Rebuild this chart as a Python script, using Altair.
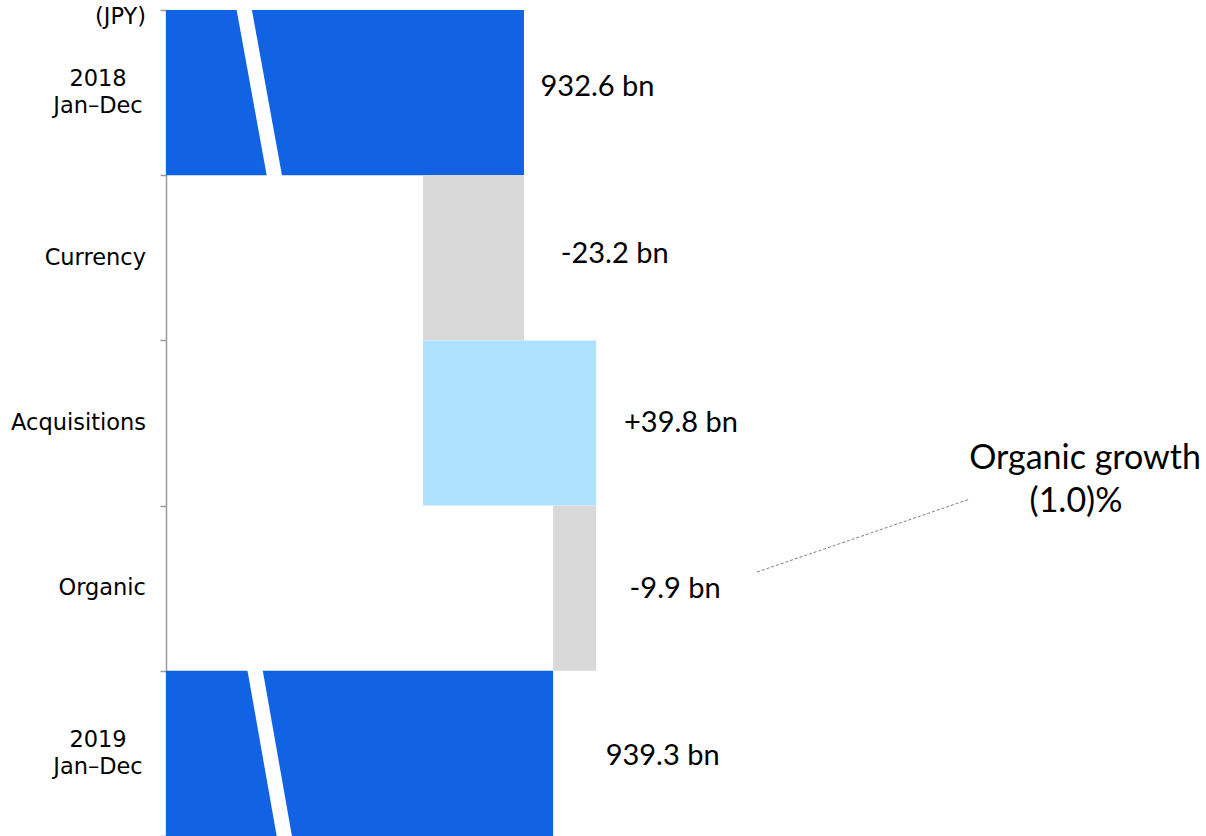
import altair as alt
import pandas as pd

# ---- data ----
categories = ["2018 Jan–Dec", "Currency", "Acquisitions", "Organic", "2019 Jan–Dec"]
values = [932.6, -23.2, 39.8, -9.9, 939.3]
kinds = ["total", "change", "change", "change", "total"]
value_labels = ["932.6 bn", "-23.2 bn", "+39.8 bn", "-9.9 bn", "939.3 bn"]

# broken-axis marks (white slashes) on the total bars
break_rows = [0, 4]
break_top = [868.3, 870.8]
break_bottom = [875.2, 877.5]

# ---- layout / style ----
x_domain = [850.3, 1089.4]
label_dx = [73.5, 90.7, 84.8, 78.9, 109.5]
label_dy = [-6, -4, 0, 1, 3]
DARK_BLUE = "#1263E4"
LIGHT_BLUE = "#AFE3FD"
GRAY = "#D9D9D9"
AXIS_GRAY = "#9a9a9a"
CAT_FONT_SIZE = 22.5

rows = []
run = 0.0
for i, (cat, v, k, lab) in enumerate(zip(categories, values, kinds, value_labels)):
    if k == "total":
        start, end = 0.0, v
        kind = "total"
    else:
        start, end = run, run + v
        kind = "increase" if v > 0 else "decrease"
    run = end
    two_line = cat[:4].isdigit()
    rows.append({"cat": cat, "idx": i, "yt": i, "yb": i + 1, "ym": i + 0.5,
                 "start": start, "end": end, "kind": kind,
                 "right": max(start, end), "label": lab,
                 "disp": cat.replace(" ", "\n", 1) if two_line else cat,
                 "two_line": two_line})
df = pd.DataFrame(rows)

yscale = alt.Scale(domain=[0, len(categories)], reverse=True, nice=False, zero=False)
xscale = alt.Scale(domain=x_domain, clamp=True, nice=False, zero=False)

y_axis = alt.Axis(
    title=None, grid=False, labels=False,
    values=list(range(len(categories) + 1)),
    domainColor=AXIS_GRAY, domainWidth=1.5,
    tickColor=AXIS_GRAY, tickWidth=1.5, tickSize=6,
)

base = alt.Chart(df)

bars = base.mark_rect().encode(
    y=alt.Y("yt:Q", scale=yscale, axis=y_axis),
    y2="yb:Q",
    x=alt.X("start:Q", scale=xscale, axis=None),
    x2="end:Q",
    color=alt.Color("kind:N",
                    scale=alt.Scale(domain=["total", "decrease", "increase"],
                                    range=[DARK_BLUE, GRAY, LIGHT_BLUE]),
                    legend=None),
)

# category labels (left of the axis)
cat_single = base.transform_filter(~alt.datum.two_line).mark_text(
    align="right", baseline="middle", font="DejaVu Sans", fontSize=CAT_FONT_SIZE, color="black"
).encode(y=alt.Y("ym:Q", scale=yscale), x=alt.value(-20), text="disp:N")
cat_double = base.transform_filter(alt.datum.two_line).mark_text(
    align="center", baseline="middle", font="DejaVu Sans", fontSize=CAT_FONT_SIZE, color="black",
    lineBreak="\n", lineHeight=27, dy=-13.5
).encode(y=alt.Y("ym:Q", scale=yscale), x=alt.value(-68), text="disp:N")

label_layers = []
for i, cat in enumerate(categories):
    label_layers.append(
        base.transform_filter(alt.datum.cat == cat).mark_text(
            align="center", baseline="middle", dx=label_dx[i], dy=label_dy[i],
            font="Lato", fontSize=29, color="black"
        ).encode(
            y=alt.Y("ym:Q", scale=yscale),
            x=alt.X("right:Q", scale=xscale),
            text="label:N",
        )
    )

one = pd.DataFrame({"a": [0]})
jpy = alt.Chart(one).mark_text(
    align="right", baseline="middle", font="DejaVu Sans", fontSize=CAT_FONT_SIZE, color="black"
).encode(x=alt.value(-20), y=alt.value(7), text=alt.value("(JPY)"))

leader = alt.Chart(one).mark_rule(
    color="#7f7f7f", strokeWidth=1, strokeDash=[3, 2]
).encode(x=alt.value(591), y=alt.value(562), x2=alt.value(804), y2=alt.value(489))

note1 = alt.Chart(one).mark_text(
    align="center", baseline="alphabetic", font="Lato", fontSize=34, color="black"
).encode(x=alt.value(919), y=alt.value(459), text=alt.value("Organic growth"))
note2 = alt.Chart(one).mark_text(
    align="center", baseline="alphabetic", font="Lato", fontSize=34, color="black"
).encode(x=alt.value(910), y=alt.value(502), text=alt.value("(1.0)%"))

# slashes marking the broken value axis
ext = 0.03
sl_rows = []
for r, xt, xb in zip(break_rows, break_top, break_bottom):
    slope = xb - xt
    sl_rows.append({"yt": r - ext, "yb": r + 1 + ext,
                    "xt": xt - ext * slope, "xb": xb + ext * slope})
sl_df = pd.DataFrame(sl_rows)
slashes = alt.Chart(sl_df).mark_rule(color="white", strokeWidth=15, strokeCap="butt").encode(
    x=alt.X("xt:Q", scale=xscale),
    x2="xb:Q",
    y=alt.Y("yt:Q", scale=yscale),
    y2="yb:Q",
)

chart = alt.layer(bars, slashes, cat_single, cat_double, *label_layers,
                  jpy, leader, note1, note2).properties(
    width=1040, height=826,
    autosize=alt.AutoSizeParams(type="none"),
    padding={"left": 166, "top": 10, "right": 0, "bottom": 0},
    background="white",
).configure_view(stroke=None)

chart.save("out.html", embed_options={"renderer": "svg", "actions": False})
